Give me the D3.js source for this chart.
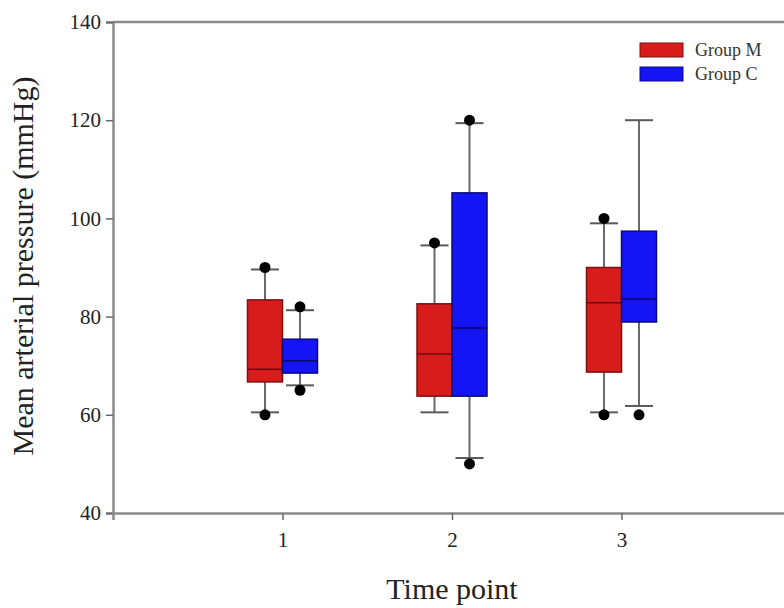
<!DOCTYPE html>
<html>
<head>
<meta charset="utf-8">
<script src="https://cdn.jsdelivr.net/npm/d3@7"></script>
<style>
  html, body { margin: 0; padding: 0; background: #fff; }
  svg { display: block; font-family: "Liberation Serif", "Times New Roman", serif; }
</style>
</head>
<body>
<svg id="chart" width="784" height="608"></svg>
<script>
// Time points on the x axis
const timePoints = [1, 2, 3];
const groupNames = ["Group M", "Group C"];
const yTicks = [40, 60, 80, 100, 120, 140];

// Box statistics per group (one entry per time point), mmHg
const mLow    = [60.5, 60.5, 60.5];
const mQ1     = [66.7, 63.8, 68.7];
const mMedian = [69.3, 72.4, 82.8];
const mQ3     = [83.4, 82.6, 90.0];
const mHigh   = [89.6, 94.5, 99.0];
const mOutliers = [[60, 90], [95], [60, 100]];

const cLow    = [66.0, 51.2, 61.8];
const cQ1     = [68.5, 63.8, 78.9];
const cMedian = [71.0, 77.7, 83.6];
const cQ3     = [75.4, 105.2, 97.4];
const cHigh   = [81.3, 119.4, 120.0];
const cOutliers = [[65, 82], [50, 120], [60]];

const groupFill   = ["#d81c1c", "#1414f5"];
const groupStroke = ["#7a1010", "#0a0a80"];
const groupMedian = ["#6a0c0c", "#0a0a60"];

const svg = d3.select("#chart");

const x = d3.scaleLinear().domain([0, 4]).range([113, 791]);
const y = d3.scaleLinear().domain([40, 140]).range([513, 22]);

const boxW = 35;
const capW = 28;
const axisColor = "#8a8a8a";

// assemble box records for drawing
const groups = [
  { name: groupNames[0], low: mLow, q1: mQ1, med: mMedian, q3: mQ3, high: mHigh, out: mOutliers },
  { name: groupNames[1], low: cLow, q1: cQ1, med: cMedian, q3: cQ3, high: cHigh, out: cOutliers }
];
const boxes = [];
groups.forEach((g, gi) => {
  timePoints.forEach((t, i) => {
    boxes.push({
      gi, t,
      low: g.low[i], q1: g.q1[i], med: g.med[i], q3: g.q3[i], high: g.high[i],
      out: g.out[i],
      cx: x(t) + (gi === 0 ? -boxW / 2 : boxW / 2)
    });
  });
});

// whiskers
const whisk = svg.append("g");
boxes.forEach(b => {
  whisk.append("line")
    .attr("x1", b.cx).attr("x2", b.cx)
    .attr("y1", y(b.low)).attr("y2", y(b.high))
    .attr("stroke", "#6a6a6a").attr("stroke-width", 2);
  [b.low, b.high].forEach(v => {
    whisk.append("line")
      .attr("x1", b.cx - capW / 2).attr("x2", b.cx + capW / 2)
      .attr("y1", y(v)).attr("y2", y(v))
      .attr("stroke", "#5a5a5a").attr("stroke-width", 2);
  });
});

// boxes
const boxG = svg.append("g");
boxes.forEach(b => {
  boxG.append("rect")
    .attr("x", b.cx - boxW / 2)
    .attr("y", y(b.q3))
    .attr("width", boxW)
    .attr("height", y(b.q1) - y(b.q3))
    .attr("fill", groupFill[b.gi])
    .attr("stroke", groupStroke[b.gi])
    .attr("stroke-width", 1.5);
  boxG.append("line")
    .attr("x1", b.cx - boxW / 2).attr("x2", b.cx + boxW / 2)
    .attr("y1", y(b.med)).attr("y2", y(b.med))
    .attr("stroke", groupMedian[b.gi]).attr("stroke-width", 1.5);
});

// outlier dots
const dots = svg.append("g");
boxes.forEach(b => {
  b.out.forEach(v => {
    dots.append("circle")
      .attr("cx", b.cx).attr("cy", y(v)).attr("r", 5.5)
      .attr("fill", "#000");
  });
});

// frame: top line
svg.append("line")
  .attr("x1", x(0)).attr("x2", x(4))
  .attr("y1", y(140)).attr("y2", y(140))
  .attr("stroke", axisColor).attr("stroke-width", 2.5);

// y axis
const yAxis = svg.append("g")
  .attr("transform", `translate(${x(0)},0)`)
  .call(d3.axisLeft(y).tickValues(yTicks).tickSize(7).tickPadding(5).tickFormat(d3.format("d")));
yAxis.select(".domain").attr("stroke", axisColor).attr("stroke-width", 2.5);
yAxis.selectAll(".tick line").attr("stroke", "#666").attr("stroke-width", 1.5);
yAxis.selectAll("text")
  .attr("font-family", "Liberation Serif, serif")
  .attr("font-size", 21).attr("fill", "#222");

// x axis
const xAxis = svg.append("g")
  .attr("transform", `translate(0,${y(40)})`)
  .call(d3.axisBottom(x).tickValues(timePoints).tickSize(7).tickPadding(12).tickFormat(d3.format("d")));
xAxis.select(".domain").attr("stroke", axisColor).attr("stroke-width", 2.5);
xAxis.selectAll(".tick line").attr("stroke", "#666").attr("stroke-width", 1.5);
xAxis.selectAll("text")
  .attr("font-family", "Liberation Serif, serif")
  .attr("font-size", 21).attr("fill", "#222");

// axis titles
svg.append("text")
  .attr("x", 452).attr("y", 599)
  .attr("text-anchor", "middle")
  .attr("font-size", 30).attr("fill", "#222")
  .text("Time point");

svg.append("text")
  .attr("transform", "translate(33,266) rotate(-90)")
  .attr("text-anchor", "middle")
  .attr("font-size", 30).attr("fill", "#222")
  .text("Mean arterial pressure (mmHg)");

// legend
const legend = svg.append("g").attr("transform", "translate(640,43)");
groupNames.forEach((name, i) => {
  const row = legend.append("g").attr("transform", `translate(0,${i * 24})`);
  row.append("rect")
    .attr("width", 43).attr("height", 14)
    .attr("fill", groupFill[i]).attr("stroke", groupStroke[i]).attr("stroke-width", 1);
  row.append("text")
    .attr("x", 55).attr("y", 13)
    .attr("font-size", 18).attr("fill", "#333")
    .text(name);
});
</script>
</body>
</html>
